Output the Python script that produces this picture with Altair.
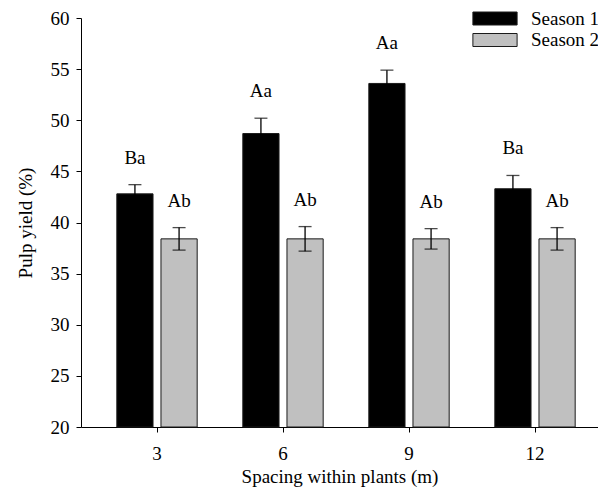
import altair as alt
import pandas as pd

spacing = ["3", "6", "9", "12"]
seasons = ["Season 1", "Season 2"]
season1_mean = [42.8, 48.7, 53.6, 43.3]
season1_err = [0.9, 1.5, 1.3, 1.3]
season2_mean = [38.4, 38.4, 38.4, 38.4]
season2_err = [1.1, 1.2, 1.0, 1.1]
season1_letters = ["Ba", "Aa", "Aa", "Ba"]
season2_letters = ["Ab", "Ab", "Ab", "Ab"]

rows = []
for i, s in enumerate(spacing):
    rows.append({"spacing": s, "season": seasons[0], "mean": season1_mean[i],
                 "lo": season1_mean[i] - season1_err[i], "hi": season1_mean[i] + season1_err[i],
                 "letter": season1_letters[i]})
    rows.append({"spacing": s, "season": seasons[1], "mean": season2_mean[i],
                 "lo": season2_mean[i] - season2_err[i], "hi": season2_mean[i] + season2_err[i],
                 "letter": season2_letters[i]})
df = pd.DataFrame(rows)

FONT = "Liberation Serif"

x_enc = alt.X("spacing:N", sort=spacing,
              scale=alt.Scale(paddingInner=0, paddingOuter=0.0516, align=1),
              axis=alt.Axis(title="Spacing within plants (m)", labelAngle=0,
                            tickSize=5, labelPadding=12, titlePadding=4))
xo_enc = alt.XOffset("season:N", sort=seasons,
                     scale=alt.Scale(paddingInner=0.18, paddingOuter=0.517))
y_scale = alt.Scale(domain=[20, 60], nice=False, zero=False)

base = alt.Chart(df)

bars = base.mark_bar(stroke="#1a1a1a", strokeWidth=1).encode(
    x=x_enc,
    xOffset=xo_enc,
    y=alt.Y("mean:Q", scale=y_scale,
            axis=alt.Axis(title="Pulp yield (%)", values=[20, 25, 30, 35, 40, 45, 50, 55, 60],
                          tickSize=5, labelPadding=7, titlePadding=15)),
    y2=alt.datum(20),
    color=alt.Color("season:N", sort=seasons,
                    scale=alt.Scale(domain=seasons, range=["#000000", "#c0c0c0"]),
                    legend=alt.Legend(title=None, orient="none", legendX=404.5, legendY=-9,
                                      symbolType="M-3.4,-1H3.4V1H-3.4Z", symbolSize=169,
                                      symbolStrokeColor="#1a1a1a", symbolStrokeWidth=1,
                                      symbolOpacity=1, labelOffset=26.5, rowPadding=1.5,
                                      labelFont=FONT, labelFontSize=19, labelColor="black",
                                      padding=0)),
)

rule = base.mark_rule(color="black", strokeWidth=1.3).encode(
    x=x_enc, xOffset=xo_enc, y=alt.Y("lo:Q", scale=y_scale), y2="hi:Q")

cap_hi = base.mark_tick(color="black", thickness=1.3, size=13, orient="horizontal").encode(
    x=x_enc, xOffset=xo_enc, y=alt.Y("hi:Q", scale=y_scale))
cap_lo = base.mark_tick(color="black", thickness=1.3, size=13, orient="horizontal").encode(
    x=x_enc, xOffset=xo_enc, y=alt.Y("lo:Q", scale=y_scale))

labels = base.mark_text(dy=-27, fontSize=19, font=FONT, baseline="middle", color="black").encode(
    x=x_enc, xOffset=xo_enc, y=alt.Y("hi:Q", scale=y_scale), text="letter:N")

chart = alt.layer(bars, rule, cap_hi, cap_lo, labels).properties(
    width=517, height=409,
    autosize=alt.AutoSizeParams(type="none"),
    padding={"left": 73, "top": 10, "right": 0, "bottom": 64},
).configure_view(stroke=None).configure_axis(
    labelFont=FONT, titleFont=FONT, labelFontSize=19, titleFontSize=19,
    labelColor="black", titleColor="black", titleFontWeight="normal",
    domainColor="black", tickColor="black", domainWidth=1, tickWidth=1, grid=False,
)

chart.save("out.html", embed_options={"renderer": "svg", "actions": False})
